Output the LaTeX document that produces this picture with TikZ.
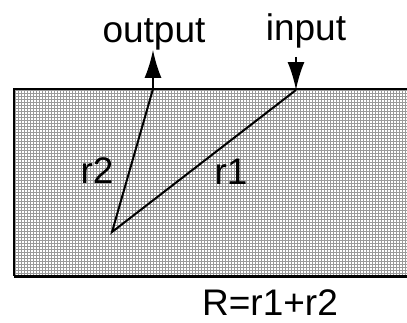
\documentclass[tikz,border=0pt]{standalone}
\usepackage{fontspec}
\setmainfont{Liberation Sans}
\usetikzlibrary{arrows.meta}
\begin{document}
\begin{tikzpicture}[x=1pt, y=-1pt,
  lbl/.style={inner sep=0pt, anchor=base, font=\fontsize{37}{40}\selectfont},
  ray/.style={line width=2pt},
  beam/.style={ray, -{Latex[length=28pt, width=17pt]}}]
  \useasboundingbox (0,0) rectangle (407,322);
  \clip (0,0) rectangle (407,322);
  % the medium
  \fill[white] (14,89) rectangle (410,276);
  \draw[gray!80, line width=0.8pt, step=3pt] (14,89) grid (410,276);
  \draw[line width=1.5pt] (410,89) -- (14,89) -- (14,276);
  \draw[line width=3pt] (14,276) -- (410,276);

  \node[lbl] (output) at (154,42) {output};
  \node[lbl] (input) at (306,40) {input};
  \node[lbl] (r2) at (97,183) {r2};
  \node[lbl] (r1) at (231,184) {r1};
  \node[lbl] (sum) at (270,315) {R=r1+r2};

  \coordinate (entry) at (296,90);
  \coordinate (turn) at (112,232);
  \coordinate (exit) at (153,89);

  % path of the ray
  \draw[beam] ([yshift=-9pt]entry |- input.south) -- (entry);
  \draw[ray] (entry) -- (turn) -- (exit);
  \draw[beam] (exit) -- (exit |- output.south);
\end{tikzpicture}
\end{document}
